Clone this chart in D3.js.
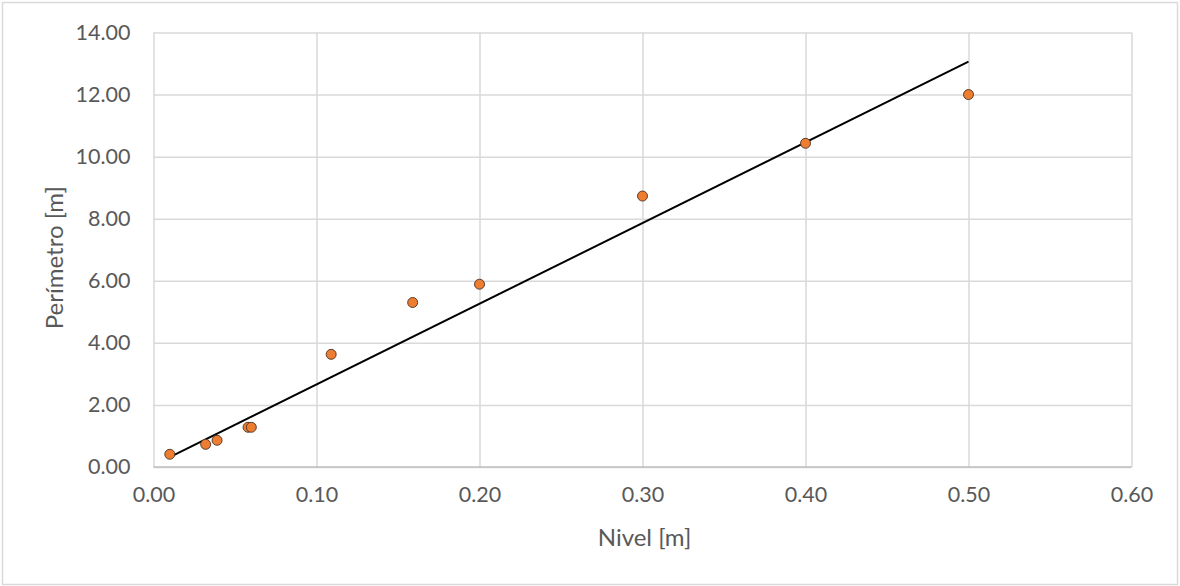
<!DOCTYPE html>
<html>
<head>
<meta charset="utf-8">
<script src="https://cdn.jsdelivr.net/npm/d3@7"></script>
<style>
  html, body { margin: 0; padding: 0; background: #fff; }
  svg { display: block; }
  text { font-family: Lato, "Open Sans", sans-serif; fill: #595959; }
</style>
</head>
<body>
<svg id="chart" width="1180" height="586"></svg>
<script>
// Data
const nivel = [0.010, 0.032, 0.039, 0.058, 0.060, 0.109, 0.159, 0.200, 0.300, 0.400, 0.500];
const perimetro = [0.41, 0.73, 0.86, 1.28, 1.28, 3.63, 5.30, 5.89, 8.73, 10.43, 12.00];
const trendX = [0.01, 0.50];
const trendY = [0.32, 13.06];
const xTicks = [0, 0.1, 0.2, 0.3, 0.4, 0.5, 0.6];
const yTicks = [0, 2, 4, 6, 8, 10, 12, 14];
const xTitle = "Nivel [m]";
const yTitle = "Perímetro [m]";

const svg = d3.select("#chart");
const W = 1180, H = 586;
const plot = { left: 153.5, right: 1131.5, top: 32.5, bottom: 467 };

// outer border
svg.append("rect").attr("x", 2.5).attr("y", 2.5).attr("width", W - 5).attr("height", H - 4)
  .attr("fill", "#fff").attr("stroke", "#d9d9d9").attr("stroke-width", 1.5);

const x = d3.scaleLinear().domain([0, 0.6]).range([plot.left, plot.right]);
const y = d3.scaleLinear().domain([0, 14]).range([plot.bottom, plot.top]);

// gridlines
const gx = svg.append("g").attr("transform", `translate(0,${plot.bottom})`)
  .call(d3.axisBottom(x).tickValues(xTicks).tickSize(-(plot.bottom - plot.top)).tickFormat(d3.format(".2f")).tickPadding(20));
gx.select(".domain").remove();
gx.selectAll(".tick line").attr("stroke", "#d9d9d9").attr("stroke-width", 1.5);
gx.selectAll(".tick text").attr("font-size", 21.5).attr("fill", "#595959")
  .style("font-family", "Lato, 'Open Sans', sans-serif");

const gy = svg.append("g").attr("transform", `translate(${plot.left},0)`)
  .call(d3.axisLeft(y).tickValues(yTicks).tickSize(-(plot.right - plot.left)).tickFormat(d3.format(".2f")).tickPadding(23));
gy.select(".domain").remove();
gy.selectAll(".tick line").attr("stroke", "#d9d9d9").attr("stroke-width", 1.5);
gy.selectAll(".tick text").attr("font-size", 21.5).attr("fill", "#595959")
  .style("font-family", "Lato, 'Open Sans', sans-serif");

// bottom axis line
svg.append("line").attr("x1", plot.left).attr("x2", plot.right)
  .attr("y1", plot.bottom).attr("y2", plot.bottom)
  .attr("stroke", "#bfbfbf").attr("stroke-width", 1.5);

// trend line
const trend = trendX.map((v, i) => [v, trendY[i]]);
svg.append("path").datum(trend)
  .attr("d", d3.line().x(d => x(d[0])).y(d => y(d[1])))
  .attr("stroke", "#000").attr("stroke-width", 2).attr("fill", "none");

// points
svg.append("g").selectAll("circle").data(nivel.map((v, i) => [v, perimetro[i]]))
  .join("circle")
  .attr("cx", d => x(d[0])).attr("cy", d => y(d[1])).attr("r", 5)
  .attr("fill", "#ED7D31").attr("stroke", "#4a3020").attr("stroke-width", 0.9);

// axis titles
svg.append("text").attr("x", (plot.left + plot.right) / 2 + 2).attr("y", 546)
  .attr("text-anchor", "middle").attr("font-size", 24).text(xTitle);
svg.append("text").attr("transform", `translate(63,${(plot.top + plot.bottom) / 2 + 8}) rotate(-90)`)
  .attr("text-anchor", "middle").attr("font-size", 24).text(yTitle);
</script>
</body>
</html>
